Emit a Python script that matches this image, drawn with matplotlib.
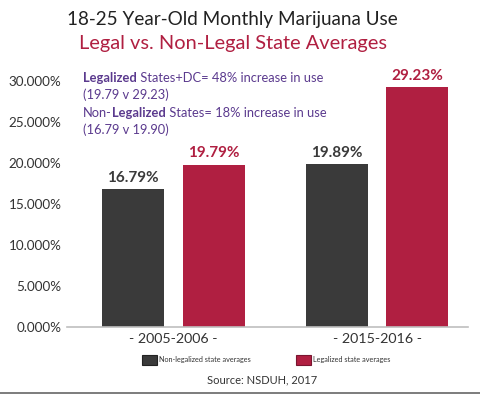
import matplotlib
matplotlib.use('Agg')
import matplotlib.pyplot as plt
import numpy as np
from matplotlib.patches import Patch
from matplotlib.transforms import ScaledTranslation

# data
periods = ['2005-2006', '2015-2016']
non_legal = [16.79, 19.89]
legal = [19.79, 29.23]
series_names = ['Non-legalized state averages', 'Legalized state averages']
note_lines = [
    [('Legalized', 'bold'), (' States+DC= 48% increase in use', 'normal')],
    [('(19.79 v 29.23)', 'normal')],
    [('Non-', 'normal'), ('Legalized', 'bold'), (' States= 18% increase in use', 'normal')],
    [('(16.79 v 19.90)', 'normal')],
]

dark = '#3a3a3a'
red = '#b01f41'
purple = '#5b3a8e'

plt.rcParams['font.family'] = ['Lato', 'DejaVu Sans']

fig = plt.figure(figsize=(4.8, 3.94), dpi=100)
ax = fig.add_axes([67 / 480, 1 - 327 / 394, 401 / 480, 246.3 / 394])

x = np.arange(len(periods))
w = 0.305
off = 0.197
b1 = ax.bar(x - off, np.array(non_legal) / 100, w, color=dark)
b2 = ax.bar(x + off, np.array(legal) / 100, w, color=red)

for bars, vals, c in [(b1, non_legal, dark), (b2, legal, red)]:
    for b, v in zip(bars, vals):
        ax.annotate('%.2f%%' % v, (b.get_x() + b.get_width() / 2, b.get_height()),
                    xytext=(0, 3), textcoords='offset points', ha='center', va='bottom',
                    fontsize=11, fontweight='bold', color=c)

ax.set_xlim(-0.523, 1.447)
ax.set_ylim(0, 0.30)
ax.set_yticks(np.arange(0, 0.301, 0.05))
ax.set_yticklabels(['%.3f%%' % (t * 100) for t in np.arange(0, 0.301, 0.05)],
                   fontsize=9.7, color='#333333')
for lab in ax.get_yticklabels():
    lab.set_transform(lab.get_transform() + ScaledTranslation(0, -3 / 72, fig.dpi_scale_trans))
ax.set_xticks(x)
ax.set_xticklabels(['- %s -' % p for p in periods], fontsize=10.3, color='#333333')
ax.tick_params(length=0)
ax.tick_params(axis='y', pad=4)
ax.tick_params(axis='x', pad=4)
for s in ['top', 'right', 'left']:
    ax.spines[s].set_visible(False)
ax.spines['bottom'].set_color('#bfbfbf')
ax.spines['bottom'].set_linewidth(1.2)

# titles
fig.text(232 / 480, 1 - 20 / 394, '18-25 Year-Old Monthly Marijuana Use', ha='center', va='center',
         fontsize=13.6, color='#222222')
fig.text(233 / 480, 1 - 43 / 394, 'Legal vs. Non-Legal State Averages', ha='center', va='center',
         fontsize=14.4, color=red)

# note with mixed bold text
renderer = fig.canvas.get_renderer()
inv = fig.transFigure.inverted()
ys = [78, 95, 113, 130]
for parts, yy in zip(note_lines, ys):
    xx = 83 / 480
    for txt, wt in parts:
        t = fig.text(xx, 1 - yy / 394, txt, ha='left', va='center', fontsize=9.3,
                     fontweight=wt, color=purple)
        bb = t.get_window_extent(renderer)
        xx = inv.transform((bb.x1, bb.y0))[0]

# legend
handles = [Patch(facecolor=dark, edgecolor='#222222', linewidth=0.8),
           Patch(facecolor=red, edgecolor='#7a1530', linewidth=0.8)]
fig.legend(handles, series_names, loc='center', bbox_to_anchor=(266 / 480, 1 - 360 / 394),
           ncol=2, frameon=False, fontsize=5.2, handlelength=2.1, handleheight=1.9,
           handletextpad=0.2, columnspacing=6.3, labelcolor='#333333')

fig.text(262 / 480, 1 - 380 / 394, 'Source: NSDUH, 2017', ha='center', va='center',
         fontsize=8, color='#333333')

fig.add_artist(plt.Line2D([0, 1], [0.6 / 394, 0.6 / 394], transform=fig.transFigure,
                          color='#666666', linewidth=1.2))

fig.savefig('out.png', dpi=100)
